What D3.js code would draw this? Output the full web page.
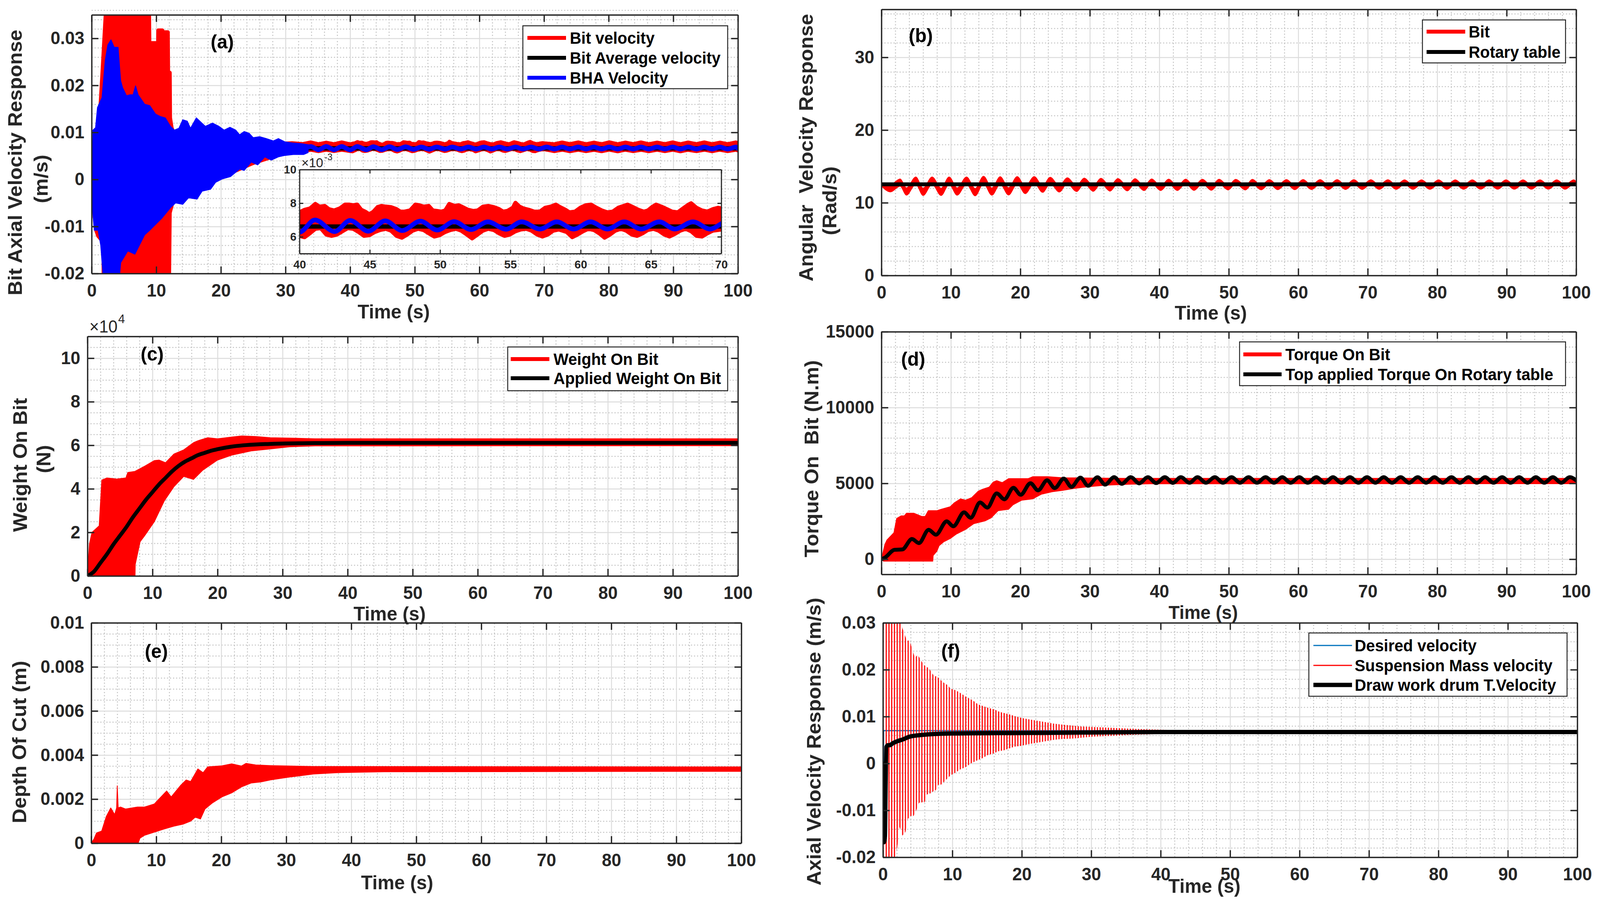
<!DOCTYPE html>
<html>
<head>
<meta charset="utf-8">
<script src="https://cdn.jsdelivr.net/npm/d3@7/dist/d3.min.js"></script>
<style>
  html, body { margin: 0; padding: 0; width: 100%; height: 100%; overflow: hidden; background: #fff; }
  #chart { width: 100vw; height: 100vh; }
</style>
</head>
<body>
<div id="chart"></div>
<script>
/* drill string response - 6 panels, matlab look */

// ---------- shared ticks ----------
const xTicks = [0, 10, 20, 30, 40, 50, 60, 70, 80, 90, 100];
const velTicks = [-0.02, -0.01, 0, 0.01, 0.02, 0.03];
const velTickLabels = ["-0.02", "-0.01", "0", "0.01", "0.02", "0.03"];
const bTicks = [0, 10, 20, 30];
const cTicks = [0, 2, 4, 6, 8, 10];            // x 10^4
const dTicks = [0, 5000, 10000, 15000];
const eTicks = [0, 0.002, 0.004, 0.006, 0.008, 0.01];
const eTickLabels = ["0", "0.002", "0.004", "0.006", "0.008", "0.01"];
const insetXTicks = [40, 45, 50, 55, 60, 65, 70];
const insetYTicks = [6, 8, 10];                 // x 10^-3

// ---------- (a) bit / BHA axial velocity ----------
// envelope edges, early transient part
const aRedTopT = [0, 0.3, 0.7, 1.2, 1.7, 2.2, 8.9, 8.95, 9.9, 9.95, 10.25, 10.3, 10.95, 11.0, 11.2, 11.25, 11.8, 11.85, 12.1, 12.15, 12.4, 13, 15, 20, 25, 29.5, 31];
const aRedTopV = [0, 0.004, 0.008, 0.012, 0.0236, 0.036, 0.036, 0.029, 0.029, 0.026, 0.026, 0.0317, 0.0317, 0.0252, 0.0252, 0.0313, 0.0313, 0.0227, 0.0227, 0.0131, 0.0109, 0.009, 0.009, 0.008, 0.0075, 0.0076, 0.0077];
const aRedBotT = [0, 0.3, 0.7, 1.0, 1.8, 1.85, 12.0, 12.1, 12.5, 13, 15, 20, 25, 29.5, 31];
const aRedBotV = [0, -0.006, -0.0108, -0.012, -0.0133, -0.021, -0.021, -0.0071, -0.005, -0.004, -0.003, 0.0005, 0.0035, 0.0055, 0.006];
const aBhaUpT = [0, 0.1, 0.2, 0.6, 0.9, 1.6, 2.1, 2.5, 3.0, 3.5, 4.1, 4.5, 4.8, 5.4, 5.9, 6.4, 6.8, 7.2, 7.7, 8.2, 9.0, 9.9, 10.6, 11.4, 12.2, 12.8, 13.5, 14.1, 14.8, 15.3, 16.2, 16.9, 17.6, 18.7, 19.7, 20.5, 21.4, 22.3, 22.9, 23.6, 24.4, 25.0, 26.0, 27.0, 28.1, 28.9, 29.9, 31.0, 32.5, 33.5];
const aBhaUpV = [0, 0.006, 0.0105, 0.011, 0.0153, 0.0174, 0.0253, 0.0286, 0.0297, 0.0281, 0.0281, 0.021, 0.0195, 0.0178, 0.018, 0.018, 0.0199, 0.018, 0.017, 0.016, 0.0157, 0.0139, 0.0134, 0.0131, 0.0113, 0.0105, 0.0109, 0.0127, 0.0124, 0.0109, 0.0131, 0.0122, 0.0113, 0.012, 0.0113, 0.0105, 0.0111, 0.0105, 0.0095, 0.0102, 0.0098, 0.0089, 0.0091, 0.0087, 0.0082, 0.0087, 0.008, 0.0078, 0.0076, 0.0074];
const aBhaLoT = [0, 0.1, 0.4, 1.0, 1.4, 1.8, 4.3, 4.5, 5.6, 6.7, 7.5, 8.2, 9.0, 9.8, 10.9, 12.2, 13.0, 14.1, 15.0, 16.3, 17.1, 18.4, 19.2, 20.2, 21.5, 22.9, 23.6, 24.7, 25.7, 26.8, 27.8, 28.9, 29.9, 31.2, 32.8, 33.5];
const aBhaLoV = [0, -0.0057, -0.0108, -0.0108, -0.014, -0.021, -0.021, -0.0177, -0.0152, -0.0159, -0.0137, -0.0118, -0.0108, -0.0097, -0.0082, -0.006, -0.005, -0.0053, -0.0039, -0.0042, -0.0025, -0.0021, -0.0006, 0.0001, 0.0006, 0.0022, 0.0019, 0.0037, 0.0031, 0.0048, 0.0041, 0.0048, 0.0051, 0.0053, 0.0053, 0.0057];
// steady part, in 10^-3 m/s. BHA slow wave: troughs on even index, peaks on odd
const aWaveT = [32.7, 33.9, 35.1, 36.3, 37.5, 38.7, 40.0, 41.1, 42.5, 43.6, 44.9, 46.1, 47.3, 48.6, 49.8, 51.0, 52.2, 53.4, 54.7, 55.8, 57.1, 58.3, 59.5, 60.7, 61.9, 63.1, 64.3, 65.6, 66.7, 68.0, 69.2, 70.4, 71.6, 72.8, 74.0, 75.3, 76.5, 77.7, 78.9, 80.1, 81.4, 82.6, 83.8, 85.0, 86.2, 87.5, 88.7, 89.9, 91.1, 92.3, 93.6, 94.8, 96.0, 97.2, 98.4, 99.7, 100];
const aBhaV = [6.3, 7.0, 6.3, 7.0, 6.3, 7.0, 6.28, 7.0, 6.31, 6.97, 6.33, 6.95, 6.37, 6.93, 6.4, 6.9, 6.43, 6.89, 6.45, 6.89, 6.46, 6.89, 6.46, 6.89, 6.46, 6.89, 6.46, 6.89, 6.46, 6.89, 6.46, 6.89, 6.46, 6.89, 6.46, 6.89, 6.46, 6.89, 6.46, 6.89, 6.46, 6.89, 6.46, 6.89, 6.46, 6.89, 6.46, 6.89, 6.46, 6.89, 6.46, 6.89, 6.46, 6.89, 6.46, 6.89, 6.62];
// bit velocity band (centre of the drawn edge), read finely over the inset window
const aRedHiT = [32.7, 33.9, 35.1, 36.3, 37.5, 38.7, 40.0, 40.36, 40.74, 41.13, 41.42, 41.8, 42.09, 42.47, 42.86, 43.24, 43.53, 43.82, 44.11, 44.4, 44.68, 44.97, 45.26, 45.55, 45.84, 46.13, 46.51, 46.9, 47.18, 47.47, 47.86, 48.24, 48.53, 48.82, 49.2, 49.49, 49.78, 50.07, 50.36, 50.65, 51.03, 51.32, 51.61, 51.99, 52.38, 52.67, 53.05, 53.43, 53.82, 54.2, 54.49, 54.78, 55.17, 55.36, 55.65, 55.93, 56.32, 56.7, 57.09, 57.47, 57.86, 58.24, 58.53, 58.92, 59.2, 59.59, 59.97, 60.36, 60.74, 61.13, 61.51, 61.9, 62.28, 62.67, 63.05, 63.34, 63.72, 64.11, 64.49, 64.78, 65.07, 65.36, 65.74, 66.13, 66.51, 66.9, 67.28, 67.67, 67.86, 68.24, 68.63, 69.01, 69.4, 69.78, 70.0, 71.6, 72.8, 74.0, 75.3, 76.5, 77.7, 78.9, 80.1, 81.4, 82.6, 83.8, 85.0, 86.2, 87.5, 88.7, 89.9, 91.1, 92.3, 93.6, 94.8, 96.0, 97.2, 98.4, 99.7, 100];
const aRedHiV = [7.53, 7.88, 7.48, 7.83, 7.48, 7.88, 7.46, 7.61, 7.69, 7.96, 7.8, 7.84, 7.65, 7.57, 7.69, 7.92, 7.92, 7.88, 7.92, 7.61, 7.5, 7.34, 7.5, 7.77, 7.84, 7.8, 7.77, 7.65, 7.5, 7.5, 7.57, 7.92, 7.88, 7.8, 7.84, 7.57, 7.54, 7.5, 7.57, 7.96, 7.84, 7.88, 7.77, 7.61, 7.54, 7.57, 7.8, 7.84, 7.77, 7.65, 7.5, 7.54, 7.73, 8.03, 7.8, 7.69, 7.61, 7.5, 7.5, 7.73, 7.8, 7.92, 7.77, 7.61, 7.46, 7.5, 7.73, 7.88, 7.92, 7.73, 7.57, 7.46, 7.5, 7.73, 7.84, 7.92, 7.77, 7.61, 7.5, 7.57, 7.77, 7.92, 7.8, 7.65, 7.5, 7.46, 7.69, 7.92, 8.0, 7.73, 7.57, 7.5, 7.65, 7.73, 7.69, 7.48, 7.86, 7.5, 7.88, 7.48, 7.83, 7.5, 7.9, 7.48, 7.85, 7.5, 7.88, 7.48, 7.83, 7.5, 7.88, 7.48, 7.86, 7.5, 7.88, 7.48, 7.83, 7.5, 7.88, 7.68];
const aRedLoT = [32.7, 33.9, 35.1, 36.3, 37.5, 38.7, 40.0, 40.36, 40.74, 41.13, 41.51, 41.9, 42.28, 42.67, 43.05, 43.43, 43.82, 44.2, 44.59, 44.97, 45.36, 45.74, 46.13, 46.51, 46.9, 47.28, 47.67, 48.05, 48.44, 48.82, 49.2, 49.59, 49.97, 50.36, 50.74, 51.13, 51.51, 51.9, 52.28, 52.67, 53.05, 53.43, 53.82, 54.2, 54.59, 54.97, 55.36, 55.74, 56.13, 56.51, 56.9, 57.28, 57.67, 58.05, 58.44, 59.01, 59.4, 59.78, 60.17, 60.55, 60.94, 61.32, 61.7, 62.09, 62.47, 62.86, 63.24, 63.63, 64.01, 64.4, 64.78, 65.17, 65.55, 65.94, 66.32, 66.71, 67.09, 67.47, 67.86, 68.24, 68.63, 69.01, 69.4, 69.78, 70.0, 71.6, 72.8, 74.0, 75.3, 76.5, 77.7, 78.9, 80.1, 81.4, 82.6, 83.8, 85.0, 86.2, 87.5, 88.7, 89.9, 91.1, 92.3, 93.6, 94.8, 96.0, 97.2, 98.4, 99.7, 100];
const aRedLoV = [6.02, 6.32, 6.02, 6.32, 6.04, 6.32, 6.05, 5.97, 6.2, 6.47, 6.51, 6.13, 6.05, 6.13, 6.32, 6.51, 6.47, 6.28, 6.05, 6.09, 6.28, 6.4, 6.47, 6.36, 6.05, 5.94, 6.13, 6.36, 6.47, 6.4, 6.2, 6.01, 6.09, 6.28, 6.4, 6.47, 6.36, 6.13, 5.9, 6.13, 6.36, 6.47, 6.4, 6.2, 6.05, 6.13, 6.32, 6.43, 6.47, 6.36, 6.13, 6.01, 6.13, 6.36, 6.43, 6.28, 5.97, 6.13, 6.32, 6.47, 6.4, 6.2, 5.94, 6.13, 6.36, 6.47, 6.36, 6.13, 6.05, 6.2, 6.4, 6.47, 6.36, 6.13, 6.01, 6.17, 6.36, 6.47, 6.32, 6.05, 6.01, 6.2, 6.36, 6.4, 6.43, 6.02, 6.32, 6.0, 6.32, 6.02, 6.3, 6.0, 6.32, 5.98, 6.32, 6.02, 6.3, 6.0, 6.32, 6.02, 6.32, 5.98, 6.3, 6.02, 6.32, 6.0, 6.32, 6.02, 6.32, 6.17];
const aAvgT = [0.3, 100];
const aAvgV = [6.61, 6.61];       // x 10^-3

// ---------- (b) angular velocity: fat red band swinging round the table speed ----------
const bBitT = [0, 1.3, 2.7, 3.6, 4.95, 6.0, 7.3, 8.6, 9.75, 10.9, 12.25, 13.5, 14.7, 15.9, 17.1, 18.3, 19.55, 20.7, 22.0, 23.2, 24.3, 25.6, 26.75, 28.1, 29.2, 30.5, 31.6, 32.9, 34.05, 35.4, 36.5, 37.8, 38.9, 40.2, 41.35, 42.6, 43.8, 45.0, 46.2, 47.5, 48.6, 49.9, 51.0, 52.4, 53.4, 54.65, 55.85, 57.05, 58.3, 59.5, 60.7, 61.9, 63.15, 64.35, 65.6, 66.8, 68.0, 69.2, 70.45, 71.65, 72.9, 74.1, 75.3, 76.5, 77.75, 78.95, 80.2, 81.4, 82.6, 83.8, 85.05, 86.25, 87.5, 88.7, 89.9, 91.1, 92.35, 93.55, 94.8, 96.0, 97.2, 98.4, 99.65, 100];
const bBitHi = [12.8, 12.49, 13.28, 12.04, 13.55, 12.0, 13.55, 12.0, 13.55, 12.04, 13.55, 11.95, 13.64, 12.04, 13.58, 12.07, 13.6, 12.25, 13.6, 12.33, 13.5, 12.33, 13.44, 12.34, 13.4, 12.32, 13.37, 12.3, 13.33, 12.28, 13.32, 12.29, 13.28, 12.28, 13.25, 12.28, 13.25, 12.3, 13.23, 12.32, 13.23, 12.36, 13.22, 12.36, 13.22, 12.38, 13.2, 12.4, 13.2, 12.4, 13.2, 12.42, 13.18, 12.42, 13.18, 12.43, 13.18, 12.43, 13.17, 12.44, 13.17, 12.44, 13.16, 12.45, 13.16, 12.45, 13.16, 12.45, 13.15, 12.45, 13.15, 12.46, 13.15, 12.46, 13.15, 12.46, 13.15, 12.46, 13.15, 12.46, 13.15, 12.46, 13.15, 12.9];
const bBitLo = [12.3, 11.49, 12.28, 11.04, 12.55, 11.0, 12.55, 11.0, 12.55, 11.04, 12.55, 10.95, 12.64, 11.04, 12.58, 11.07, 12.6, 11.25, 12.7, 11.43, 12.65, 11.48, 12.64, 11.54, 12.65, 11.57, 12.67, 11.6, 12.68, 11.63, 12.7, 11.67, 12.68, 11.68, 12.65, 11.68, 12.65, 11.7, 12.63, 11.72, 12.63, 11.76, 12.62, 11.76, 12.62, 11.78, 12.6, 11.8, 12.6, 11.8, 12.6, 11.82, 12.58, 11.82, 12.58, 11.83, 12.58, 11.83, 12.57, 11.84, 12.57, 11.84, 12.56, 11.85, 12.56, 11.85, 12.56, 11.85, 12.55, 11.85, 12.55, 11.86, 12.55, 11.86, 12.55, 11.86, 12.55, 11.86, 12.55, 11.86, 12.55, 11.86, 12.55, 12.3];
const bTableT = [0, 100];
const bTableV = [12.53, 12.53];

// ---------- (c) weight on bit (x 10^4 N) ----------
const cRedHiT = [0, 0.3, 0.7, 1.8, 2.2, 3.0, 4.5, 5.9, 6.2, 7.3, 8.8, 10.3, 11.0, 12.0, 13.3, 14.8, 16.3, 17.0, 18.5, 20, 22.2, 23.7, 25.9, 28.1, 31.1, 35, 100];
const cRedHiV = [0, 1.47, 2.0, 2.3, 4.4, 4.5, 4.45, 4.5, 4.75, 4.8, 5.04, 5.3, 5.32, 5.2, 5.6, 5.79, 6.12, 6.21, 6.35, 6.3, 6.38, 6.43, 6.4, 6.35, 6.33, 6.3, 6.3];
const cRedLoT = [0, 7.3, 7.35, 8.1, 8.8, 10.3, 11.8, 13.3, 14.8, 16.3, 17.7, 20, 22.2, 25.2, 28.1, 31.1, 35, 100];
const cRedLoV = [-0.3, -0.3, 0.53, 1.57, 1.85, 2.5, 3.44, 4.1, 4.57, 4.43, 4.85, 5.32, 5.55, 5.74, 5.83, 5.93, 5.97, 5.98];
const cAppT = [0, 1, 2, 3, 4, 5, 6, 7, 8, 9, 10, 11, 12, 13, 14, 15, 16, 17, 18, 19, 20, 22, 24, 26, 28, 30, 35, 40, 100];
const cAppV = [0, 0.2, 0.6, 1.0, 1.45, 1.85, 2.25, 2.7, 3.1, 3.5, 3.85, 4.2, 4.5, 4.8, 5.05, 5.25, 5.4, 5.55, 5.65, 5.75, 5.82, 5.93, 6.0, 6.04, 6.06, 6.08, 6.1, 6.11, 6.11];

// ---------- (d) torque on bit ----------
const dRedHiT = [0, 0.5, 0.8, 1.8, 2.2, 2.85, 3.3, 3.6, 4.7, 5.8, 6.3, 6.75, 8.0, 8.6, 9.9, 10.5, 11.4, 12.1, 13.0, 13.95, 14.6, 15.5, 16.1, 16.6, 17.4, 18.3, 21.1, 21.8, 24.0, 26.1, 30.8, 35, 100];
const dRedHiV = [0, 970, 1270, 1745, 2690, 2860, 2860, 3030, 3030, 2820, 2820, 3200, 3200, 3290, 3460, 3720, 3980, 3890, 4060, 4490, 4620, 4750, 5090, 5180, 5050, 5310, 5310, 5440, 5440, 5370, 5350, 5330, 5330];
const dRedLoT = [0, 0.3, 7.4, 7.45, 8.0, 8.3, 8.95, 9.9, 10.8, 12.1, 13.3, 14.9, 15.8, 16.8, 18.3, 18.95, 20.2, 21.8, 23.0, 24.6, 26.1, 27.7, 29.6, 32.4, 35.5, 38.7, 100];
const dRedLoV = [0, -130, -130, 240, 540, 885, 1140, 1360, 1660, 1960, 2345, 2520, 2730, 3200, 3290, 3590, 3890, 3980, 4280, 4450, 4540, 4660, 4770, 4880, 4940, 4970, 4980];
const dTopT = [0, 0.5, 1.9, 3.0, 4.4, 5.4, 6.8, 7.85, 9.4, 10.35, 11.9, 12.85, 14.2, 15.25, 16.6, 17.7, 19.0, 20.05, 21.45, 22.55, 23.85, 24.95, 26.25, 27.35, 28.65, 29.75, 31.1, 32.2, 33.5, 34.6, 35.9, 37.1, 38.35, 39.55, 40.8, 41.95, 43.1, 44.35, 45.5, 46.7, 48.0, 49.15, 50.4, 51.6, 52.85, 54.05, 55.3, 56.5, 57.7, 58.9, 60.15, 61.35, 62.6, 63.8, 65.0, 66.2, 67.45, 68.65, 69.9, 71.1, 72.3, 73.5, 74.75, 75.95, 77.2, 78.4, 79.6, 80.8, 82.05, 83.25, 84.5, 85.7, 86.9, 88.1, 89.35, 90.55, 91.8, 93.0, 94.2, 95.4, 96.65, 97.85, 99.1, 100];
const dTopV = [0, 100, 620, 640, 1330, 1060, 1940, 1615, 2500, 2170, 3090, 2730, 3740, 3400, 4340, 3950, 4710, 4250, 5010, 4540, 5200, 4690, 5310, 4770, 5380, 4840, 5400, 4920, 5410, 4970, 5410, 5000, 5410, 5020, 5410, 5030, 5410, 5040, 5410, 5040, 5410, 5040, 5410, 5040, 5410, 5040, 5410, 5040, 5410, 5040, 5410, 5040, 5410, 5040, 5410, 5040, 5410, 5040, 5410, 5040, 5410, 5040, 5410, 5040, 5410, 5040, 5410, 5040, 5410, 5040, 5410, 5040, 5410, 5040, 5410, 5040, 5410, 5040, 5410, 5040, 5410, 5040, 5410, 5200];

// ---------- (e) depth of cut ----------
const eRedHiT = [0, 0.4, 0.8, 1.6, 2.3, 3.0, 3.6, 3.9, 4.0, 4.15, 4.5, 5.3, 7.1, 8.2, 9.7, 11.6, 12.3, 13.8, 14.6, 15.3, 16.4, 17.2, 17.9, 20.1, 21.6, 23.1, 23.8, 25.3, 27.6, 30.5, 34.2, 100];
const eRedHiV = [0, 0.00018, 0.00046, 0.00055, 0.0012, 0.0016, 0.0013, 0.0016, 0.0026, 0.0016, 0.00164, 0.00155, 0.00164, 0.00164, 0.00178, 0.00237, 0.0021, 0.00264, 0.00287, 0.0028, 0.00337, 0.0032, 0.00346, 0.00351, 0.0036, 0.0035, 0.00362, 0.00355, 0.00352, 0.0035, 0.00348, 0.00346];
const eRedLoT = [0, 7.1, 7.5, 8.2, 9.7, 11.2, 12.7, 14.2, 15.3, 16.0, 16.8, 17.5, 18.6, 20.1, 21.6, 23.1, 24.6, 26.1, 27.6, 30.5, 34.2, 38, 45, 100];
const eRedLoV = [-0.0001, -0.0001, 0.00023, 0.00036, 0.0005, 0.00064, 0.00077, 0.00087, 0.001, 0.00118, 0.0011, 0.00155, 0.00182, 0.0021, 0.00228, 0.00255, 0.00273, 0.00278, 0.00287, 0.003, 0.00314, 0.0032, 0.00324, 0.00326];

// ---------- (f) top drive axial velocities ----------
const fSpikePeriod = 0.395;      // spacing of the red spikes, s
const fRedHiT = [0.15, 2.35, 2.7, 3.45, 3.85, 4.6, 5.0, 5.4, 5.8, 6.2, 6.6, 7.0, 7.4, 7.8, 8.15, 8.55, 8.95, 9.35, 9.7, 10.5, 11.3, 12.1, 12.9, 13.7, 14.5, 15.3, 16.1, 16.8, 17.6, 18.4, 19.2, 20.0, 21.1, 22.3, 23.5, 24.6, 25.8, 27.2, 28.5, 30.1, 33, 36, 40, 45, 50, 100];
const fRedHiV = [0.031, 0.031, 0.0293, 0.0262, 0.0262, 0.0225, 0.0232, 0.0222, 0.0212, 0.0206, 0.0204, 0.0194, 0.0186, 0.0186, 0.018, 0.0175, 0.017, 0.0167, 0.016, 0.0156, 0.0149, 0.0141, 0.0135, 0.0126, 0.0122, 0.0118, 0.0115, 0.011, 0.0107, 0.0104, 0.01, 0.0097, 0.0094, 0.0091, 0.0088, 0.0085, 0.0083, 0.0081, 0.0079, 0.0078, 0.0076, 0.0074, 0.0072, 0.007, 0.0069, 0.0068];
const fRedLoT = [0.15, 1.7, 2.05, 2.4, 2.8, 3.25, 3.6, 4.0, 4.4, 4.8, 5.2, 5.6, 6.0, 6.35, 6.8, 7.2, 7.6, 8.0, 8.4, 8.75, 9.15, 9.55, 9.9, 10.3, 11.1, 11.9, 12.65, 13.5, 14.3, 15.1, 15.9, 16.6, 17.4, 18.2, 19.0, 19.75, 20.9, 22.1, 23.3, 24.4, 25.6, 27.2, 28.7, 30.1, 33, 36, 40, 45, 50, 100];
const fRedLoV = [-0.021, -0.021, -0.018, -0.0135, -0.0154, -0.0146, -0.0118, -0.0112, -0.0112, -0.01, -0.0084, -0.0083, -0.0083, -0.0066, -0.0064, -0.006, -0.0057, -0.0045, -0.0045, -0.004, -0.0034, -0.0028, -0.0024, -0.0021, -0.0013, -0.0008, 0, 0.0006, 0.0011, 0.0018, 0.0021, 0.0026, 0.0028, 0.0032, 0.0036, 0.0037, 0.0041, 0.0044, 0.0047, 0.005, 0.0052, 0.0053, 0.0055, 0.0057, 0.0059, 0.0061, 0.0063, 0.0065, 0.0066, 0.0066];
const fDrumT = [0, 0.05, 0.15, 0.3, 0.4, 0.5, 0.7, 1.0, 1.4, 2.0, 3.0, 3.8, 5.7, 9.6, 19.4, 29.1, 40, 100];
const fDrumV = [0, -0.012, -0.0168, -0.0155, -0.005, 0.0035, 0.0039, 0.0039, 0.0043, 0.0047, 0.0052, 0.0057, 0.0061, 0.0064, 0.0065, 0.0066, 0.0067, 0.0067];
const fDesT = [0, 0.1, 0.1, 100];
const fDesV = [0, 0, 0.007, 0.007];


// ---------- setup ----------
const W = 4226, H = 2306;
const AX = "#262626";
const FONT = "'Liberation Sans', Arial, Helvetica, sans-serif";

// drawn in a fixed 4226 x 2306 frame, stretched onto whatever the window gives
const svg = d3.select("#chart").append("svg")
    .attr("viewBox", `0 0 ${W} ${H}`)
    .attr("preserveAspectRatio", "none")
    .style("width", "100%").style("height", "100%")
    .style("display", "block");
svg.append("rect").attr("width", W).attr("height", H).attr("fill", "#fff");
const defs = svg.append("defs");

function minorOf(dom, step, majors) {
    // minor grid spots that don't sit on a major tick
    return d3.range(dom[0], dom[1] + step / 2, step)
        .filter(v => !majors.some(m => Math.abs(m - v) < step / 10));
}

function makePanel(o) {
    let p = {};
    const b = o.box;
    const w = b.r - b.l, h = b.b - b.t;
    p.x = d3.scaleLinear().domain(o.xDomain).range([b.l, b.r]);
    p.y = d3.scaleLinear().domain(o.yDomain).range([b.b, b.t]);
    p.box = b;

    const g = svg.append("g");
    defs.append("clipPath").attr("id", "clip-" + o.id)
        .append("rect").attr("x", b.l).attr("y", b.t).attr("width", w).attr("height", h);
    g.append("rect").attr("x", b.l).attr("y", b.t).attr("width", w).attr("height", h).attr("fill", "#fff");

    // grid: minor dotted first, then solid majors
    const grid = g.append("g");
    const gridLine = (sel, dash, col) => {
        sel.select(".domain").remove();
        sel.selectAll("line").attr("stroke", col).attr("stroke-width", o.gridW).attr("stroke-dasharray", dash);
    };
    grid.append("g").attr("transform", `translate(0,${b.b})`)
        .call(d3.axisBottom(p.x).tickValues(o.xMinor).tickSize(-h).tickFormat(""))
        .call(s => gridLine(s, "3,5", "#c4c4c4"));
    grid.append("g").attr("transform", `translate(${b.l},0)`)
        .call(d3.axisLeft(p.y).tickValues(o.yMinor).tickSize(-w).tickFormat(""))
        .call(s => gridLine(s, "3,5", "#c4c4c4"));
    grid.append("g").attr("transform", `translate(0,${b.b})`)
        .call(d3.axisBottom(p.x).tickValues(o.xTicks).tickSize(-h).tickFormat(""))
        .call(s => gridLine(s, null, "#dcdcdc"));
    grid.append("g").attr("transform", `translate(${b.l},0)`)
        .call(d3.axisLeft(p.y).tickValues(o.yTicks).tickSize(-w).tickFormat(""))
        .call(s => gridLine(s, null, "#dcdcdc"));

    p.plot = g.append("g").attr("clip-path", `url(#clip-${o.id})`);

    // box + inward ticks
    const axG = g.append("g");
    const styleAx = sel => {
        sel.attr("font-family", FONT).attr("font-size", o.fs).attr("font-weight", "bold");
        sel.select(".domain").attr("stroke", AX).attr("stroke-width", o.lw);
        sel.selectAll(".tick line").attr("stroke", AX).attr("stroke-width", o.lw);
        sel.selectAll(".tick text").attr("fill", AX);
    };
    axG.append("g").attr("transform", `translate(0,${b.b})`)
        .call(d3.axisBottom(p.x).tickValues(o.xTicks).tickSizeInner(-o.tl).tickSizeOuter(0)
            .tickPadding(o.xPad).tickFormat((d, i) => o.xLabels[i]))
        .call(styleAx);
    axG.append("g").attr("transform", `translate(0,${b.t})`)
        .call(d3.axisTop(p.x).tickValues(o.xTicks).tickSizeInner(-o.tl).tickSizeOuter(0).tickFormat(""))
        .call(styleAx);
    axG.append("g").attr("transform", `translate(${b.l},0)`)
        .call(d3.axisLeft(p.y).tickValues(o.yTicks).tickSizeInner(-o.tl).tickSizeOuter(0)
            .tickPadding(o.yPad).tickFormat((d, i) => o.yLabels[i]))
        .call(styleAx);
    axG.append("g").attr("transform", `translate(${b.r},0)`)
        .call(d3.axisRight(p.y).tickValues(o.yTicks).tickSizeInner(-o.tl).tickSizeOuter(0).tickFormat(""))
        .call(styleAx);
    return p;
}

// closed band: upper edge forward, lower edge back
function band(p, upT, upV, loT, loV, fill, strokeW) {
    const pts = upT.map((t, i) => [t, upV[i]])
        .concat(loT.map((t, i) => [t, loV[i]]).reverse());
    const line = d3.line().x(d => p.x(d[0])).y(d => p.y(d[1]));
    return p.plot.append("path")
        .attr("d", line(pts) + "Z")
        .attr("fill", fill)
        .attr("stroke", strokeW ? fill : "none")
        .attr("stroke-width", strokeW || 0)
        .attr("stroke-linejoin", "round");
}

function trace(p, T, V, color, width, curve) {
    const line = d3.line().x(d => p.x(d[0])).y(d => p.y(d[1])).curve(curve || d3.curveLinear);
    return p.plot.append("path")
        .attr("d", line(T.map((t, i) => [t, V[i]])))
        .attr("fill", "none").attr("stroke", color).attr("stroke-width", width)
        .attr("stroke-linejoin", "round").attr("stroke-linecap", "round");
}

function txt(x, y, s, size, opts) {
    opts = opts || {};
    const t = svg.append("text")
        .attr("x", x).attr("y", y)
        .attr("font-family", FONT).attr("font-size", size)
        .attr("font-weight", opts.normal ? "normal" : "bold")
        .attr("fill", opts.fill || "#000")
        .attr("text-anchor", opts.anchor || "middle")
        .style("white-space", "pre")
        .text(s);
    if (opts.rot) t.attr("transform", `rotate(-90,${x},${y})`).attr("dominant-baseline", "central");
    return t;
}

function legend(L, entries) {
    const g = svg.append("g");
    g.append("rect").attr("x", L.x).attr("y", L.y).attr("width", L.w).attr("height", L.h)
        .attr("fill", "#fff").attr("stroke", AX).attr("stroke-width", 2.5);
    entries.forEach((e, i) => {
        const cy = L.rows[i];
        g.append("line").attr("x1", L.x1).attr("x2", L.x2).attr("y1", cy).attr("y2", cy)
            .attr("stroke", e.color).attr("stroke-width", e.width);
        g.append("text").attr("x", L.tx).attr("y", cy).attr("dy", "0.36em")
            .attr("font-family", FONT).attr("font-size", 42).attr("font-weight", "bold")
            .text(e.label);
    });
}

const common = {xDomain: [0, 100], xTicks: xTicks, xLabels: xTicks.map(String),
    xMinor: minorOf([0, 100], 2, xTicks), fs: 46, lw: 3.5, tl: 18, xPad: 26, yPad: 19, gridW: 2.5};
const k3 = 1e-3;
const scaled = arr => arr.map(v => v * k3);

// ---------- (a) ----------
const pa = makePanel(Object.assign({}, common, {
    id: "a", box: {l: 242, r: 1949, t: 38, b: 700}, yDomain: [-0.02, 0.035],
    yTicks: velTicks, yLabels: velTickLabels, yMinor: minorOf([-0.02, 0.035], 0.002, velTicks)
}));
band(pa,
    aRedTopT.concat(aRedHiT), aRedTopV.concat(scaled(aRedHiV)),
    aRedBotT.concat(aRedLoT), aRedBotV.concat(scaled(aRedLoV)), "#ff0000", 10);
trace(pa, aAvgT, scaled(aAvgV), "#000", 11);
band(pa, aBhaUpT, aBhaUpV, aBhaLoT, aBhaLoV, "#0000ff", 2);
trace(pa, aWaveT, scaled(aBhaV), "#0000ff", 12, d3.curveMonotoneX);

// inset zoom 40-70 s
const pin = makePanel({
    id: "ins", box: {l: 791, r: 1905, t: 434, b: 649},
    xDomain: [40, 70], xTicks: insetXTicks, xLabels: insetXTicks.map(String), xMinor: minorOf([40, 70], 1, insetXTicks),
    yDomain: [5, 10], yTicks: insetYTicks, yLabels: insetYTicks.map(String), yMinor: minorOf([5, 10], 0.5, insetYTicks),
    fs: 30, lw: 3, tl: 10, xPad: 17, yPad: 8, gridW: 2
});
band(pin, aRedHiT, aRedHiV, aRedLoT, aRedLoV, "#ff0000", 10);
trace(pin, aAvgT, aAvgV, "#000", 11);
trace(pin, aWaveT, aBhaV, "#0000ff", 12, d3.curveMonotoneX);
txt(796, 428, "×10", 34, {anchor: "start", normal: true, fill: AX});
txt(857, 410, "-3", 24, {anchor: "start", normal: true, fill: AX});

// ---------- (b) ----------
const pb = makePanel(Object.assign({}, common, {
    id: "b", box: {l: 2328, r: 4163, t: 24, b: 705}, yDomain: [0, 36.6],
    yTicks: bTicks, yLabels: bTicks.map(String), yMinor: minorOf([0, 36.6], 2, bTicks)
}));
const bArea = d3.area().curve(d3.curveMonotoneX)
    .x((d, i) => pb.x(bBitT[i])).y0((d, i) => pb.y(bBitLo[i])).y1((d, i) => pb.y(bBitHi[i]));
pb.plot.append("path").attr("d", bArea(bBitT)).attr("fill", "#ff0000")
    .attr("stroke", "#ff0000").attr("stroke-width", 2);
trace(pb, bTableT, bTableV, "#000", 10);

// ---------- (c) ----------
const pc = makePanel(Object.assign({}, common, {
    id: "c", box: {l: 231, r: 1949, t: 861, b: 1474}, yDomain: [0, 11],
    yTicks: cTicks, yLabels: cTicks.map(String), yMinor: minorOf([0, 11], 0.5, cTicks)
}));
band(pc, cRedHiT, cRedHiV, cRedLoT, cRedLoV, "#ff0000", 2);
trace(pc, cAppT, cAppV, "#000", 10, d3.curveMonotoneX);
txt(236, 851, "×10", 44, {anchor: "start", normal: true, fill: AX});
txt(312, 827, "4", 32, {anchor: "start", normal: true, fill: AX});

// ---------- (d) ----------
const pd = makePanel(Object.assign({}, common, {
    id: "d", box: {l: 2328, r: 4163, t: 849, b: 1470}, yDomain: [-1000, 15000],
    yTicks: dTicks, yLabels: dTicks.map(String), yMinor: minorOf([-1000, 15000], 1000, dTicks)
}));
band(pd, dRedHiT, dRedHiV, dRedLoT, dRedLoV, "#ff0000", 2);
trace(pd, dTopT, dTopV, "#000", 10, d3.curveMonotoneX);

// ---------- (e) ----------
const pe = makePanel(Object.assign({}, common, {
    id: "e", box: {l: 241, r: 1958, t: 1594, b: 2158}, yDomain: [0, 0.01],
    yTicks: eTicks, yLabels: eTickLabels, yMinor: minorOf([0, 0.01], 0.0005, eTicks)
}));
band(pe, eRedHiT, eRedHiV, eRedLoT, eRedLoV, "#ff0000", 2);

// ---------- (f) ----------
const pf = makePanel(Object.assign({}, common, {
    id: "f", box: {l: 2332, r: 4166, t: 1594, b: 2194}, yDomain: [-0.02, 0.03],
    yTicks: velTicks, yLabels: velTickLabels, yMinor: minorOf([-0.02, 0.03], 0.002, velTicks)
}));
// thin red spikes: hatch of vertical strokes, one per oscillation, clipped to the envelope
const spikeW = pf.x(fSpikePeriod) - pf.x(0);
defs.append("pattern").attr("id", "spikes").attr("patternUnits", "userSpaceOnUse")
    .attr("x", pf.x(0)).attr("y", 0).attr("width", spikeW).attr("height", 20)
    .append("rect").attr("width", 3).attr("height", 20).attr("fill", "#ff0000");
trace(pf, fDesT, fDesV, "#0072bd", 3);
band(pf, fRedHiT, fRedHiV, fRedLoT, fRedLoV, "url(#spikes)", 0);
trace(pf, fDrumT, fDrumV, "#000", 11, d3.curveMonotoneX);

// ---------- legends ----------
legend({x: 1381, y: 66, w: 541, h: 161, rows: [97, 148, 199], x1: 1393, x2: 1495, tx: 1505}, [
    {label: "Bit velocity", color: "#ff0000", width: 10},
    {label: "Bit Average velocity", color: "#000", width: 10},
    {label: "BHA Velocity", color: "#0000ff", width: 10}
]);
legend({x: 3757, y: 51, w: 378, h: 110, rows: [81, 133], x1: 3768, x2: 3870, tx: 3879}, [
    {label: "Bit", color: "#ff0000", width: 10},
    {label: "Rotary table", color: "#000", width: 10}
]);
legend({x: 1341, y: 888, w: 581, h: 112, rows: [919, 968], x1: 1349, x2: 1451, tx: 1462}, [
    {label: "Weight On Bit", color: "#ff0000", width: 10},
    {label: "Applied Weight On Bit", color: "#000", width: 10}
]);
legend({x: 3274, y: 875, w: 861, h: 112, rows: [907, 958], x1: 3284, x2: 3385, tx: 3395}, [
    {label: "Torque On Bit", color: "#ff0000", width: 10},
    {label: "Top applied Torque On Rotary table", color: "#000", width: 10}
]);
legend({x: 3457, y: 1620, w: 682, h: 162, rows: [1652, 1703, 1753], x1: 3469, x2: 3571, tx: 3578}, [
    {label: "Desired velocity", color: "#0072bd", width: 3},
    {label: "Suspension Mass velocity", color: "#ff0000", width: 3},
    {label: "Draw work drum T.Velocity", color: "#000", width: 11}
]);

// ---------- panel tags ----------
txt(587, 106, "(a)", 50).attr("dominant-baseline", "central");
txt(2432, 90, "(b)", 50).attr("dominant-baseline", "central");
txt(402, 905, "(c)", 50).attr("dominant-baseline", "central");
txt(2412, 918, "(d)", 50).attr("dominant-baseline", "central");
txt(413, 1666, "(e)", 50).attr("dominant-baseline", "central");
txt(2511, 1665, "(f)", 50).attr("dominant-baseline", "central");

// ---------- axis titles ----------
txt(1040, 815, "Time (s)", 50, {fill: AX});
txt(3198, 818, "Time (s)", 50, {fill: AX});
txt(1029, 1588, "Time (s)", 50, {fill: AX});
txt(3178, 1584, "Time (s)", 48, {fill: AX});
txt(1049, 2276, "Time (s)", 50, {fill: AX});
txt(3181, 2285, "Time (s)", 50, {fill: AX});

txt(40, 416, "Bit Axial Velocity Response", 52, {rot: true, fill: AX});
txt(108, 458, "(m/s)", 52, {rot: true, fill: AX});
txt(2129, 378, "Angular  Velocity Response", 52, {rot: true, fill: AX});
txt(2191, 514, "(Rad/s)", 52, {rot: true, fill: AX});
txt(53, 1190, "Weight On Bit", 52, {rot: true, fill: AX});
txt(115, 1175, "(N)", 52, {rot: true, fill: AX});
txt(2144, 1174, "Torque On  Bit (N.m)", 52, {rot: true, fill: AX});
txt(51, 1899, "Depth Of Cut (m)", 52, {rot: true, fill: AX});
txt(2150, 1898, "Axial Velocity Response (m/s)", 52, {rot: true, fill: AX});
</script>
</body>
</html>
